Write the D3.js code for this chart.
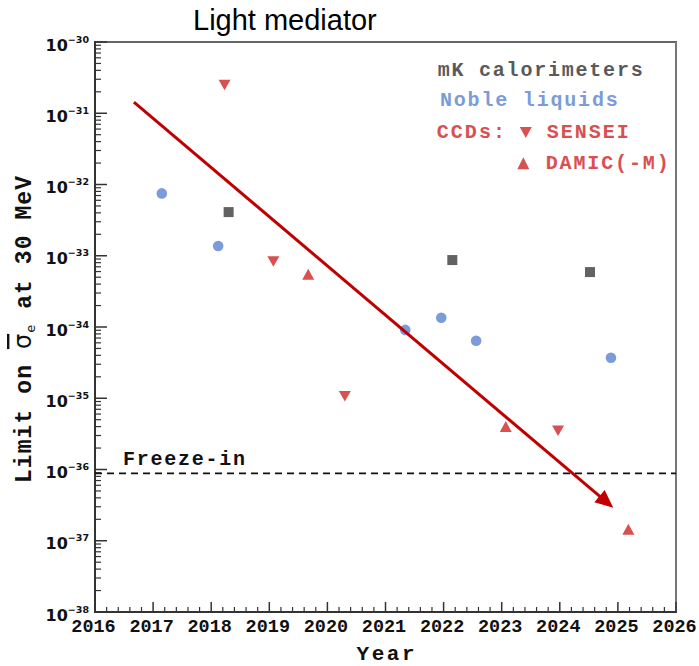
<!DOCTYPE html>
<html>
<head>
<meta charset="utf-8">
<script src="https://cdn.jsdelivr.net/npm/d3@7"></script>
<style>
  html, body { margin: 0; padding: 0; background: #fff; }
  svg { display: block; }
</style>
</head>
<body>
<svg id="chart" width="699" height="666"></svg>
<script>
// ---- data ----
const nobleYears = [2017.15, 2018.12, 2021.34, 2021.96, 2022.56, 2024.88];
const nobleVals  = [7.5e-33, 1.37e-33, 9.1e-35, 1.35e-34, 6.4e-35, 3.7e-35];
const mkYears    = [2018.30, 2022.15, 2024.52];
const mkVals     = [4.1e-33, 8.7e-34, 5.9e-34];
const senseiYears = [2018.23, 2019.07, 2020.30, 2023.97];
const senseiVals  = [2.5e-31, 8.3e-34, 1.07e-35, 3.5e-36];
const damicYears  = [2019.67, 2023.07, 2025.18];
const damicVals   = [5.5e-34, 4.0e-36, 1.45e-37];
const freezeIn = 8.85e-37;
const arrowYears = [2016.67, 2024.92];
const arrowVals  = [1.43e-31, 2.9e-37];
const xTickYears = [2016, 2017, 2018, 2019, 2020, 2021, 2022, 2023, 2024, 2025, 2026];
const yTickExps  = [-30, -31, -32, -33, -34, -35, -36, -37, -38];
const legendLabels = ["mK calorimeters", "Noble liquids", "CCDs:", "SENSEI", "DAMIC(-M)"];

const colGrey = "#626262", colBlue = "#7b9cd8", colRed = "#d8504f", colArrow = "#c00000";
const mono = "'Liberation Mono', 'Courier New', monospace";

const svg = d3.select("#chart");
const L = 95, R = 676, T = 42, B = 612;
const x = d3.scaleLinear().domain([2016, 2026]).range([L, R]);
const y = d3.scaleLog().domain([1e-38, 1e-30]).range([B, T]);

// title
svg.append("text").attr("x", 193).attr("y", 30)
  .attr("font-family", "'Liberation Sans', Arial, sans-serif").attr("font-size", 29)
  .attr("fill", "#000").text("Light mediator");

// frame top/right
svg.append("line").attr("x1", L).attr("x2", R + 1).attr("y1", T).attr("y2", T)
  .attr("stroke", "#666").attr("stroke-width", 2);
svg.append("line").attr("x1", R).attr("x2", R).attr("y1", T).attr("y2", B)
  .attr("stroke", "#777").attr("stroke-width", 2);

// y ticks (log minor)
const yMinor = [];
for (let e = -38; e < -30; e++) for (let m = 2; m <= 9; m++) yMinor.push(m * Math.pow(10, e));
const yAxisG = svg.append("g");
yAxisG.selectAll("line.minor").data(yMinor).join("line")
  .attr("x1", L).attr("x2", L + 6).attr("y1", d => y(d)).attr("y2", d => y(d))
  .attr("stroke", "#333").attr("stroke-width", 1.2);
yAxisG.selectAll("line.major").data(yTickExps).join("line")
  .attr("x1", L).attr("x2", L + 12).attr("y1", d => y(Math.pow(10, d))).attr("y2", d => y(Math.pow(10, d)))
  .attr("stroke", "#333").attr("stroke-width", 1.5);
const yl = yAxisG.selectAll("text").data(yTickExps).join("text")
  .attr("x", 89).attr("y", d => y(Math.pow(10, d)) + 8.5)
  .attr("text-anchor", "end").attr("font-family", "'DejaVu Sans', sans-serif")
  .attr("font-weight", "bold").attr("fill", "#111");
yl.append("tspan").attr("font-size", 16).text("10");
yl.append("tspan").attr("font-size", 9.5).attr("dy", -7.8).text(d => "\u2212" + Math.abs(d));

// x ticks
const xMinor = [];
for (let yr = 2016; yr < 2026; yr++) for (let k = 1; k <= 4; k++) xMinor.push(yr + k * 0.2);
const xAxisG = svg.append("g");
xAxisG.selectAll("line.minor").data(xMinor).join("line")
  .attr("x1", d => x(d)).attr("x2", d => x(d)).attr("y1", B).attr("y2", B - 5)
  .attr("stroke", "#333").attr("stroke-width", 1.2);
xAxisG.selectAll("line.major").data(xTickYears).join("line")
  .attr("x1", d => x(d)).attr("x2", d => x(d)).attr("y1", B).attr("y2", B - 10)
  .attr("stroke", "#333").attr("stroke-width", 1.5);
xAxisG.selectAll("text").data(xTickYears).join("text")
  .attr("x", d => x(d) - 1.5).attr("y", 632).attr("text-anchor", "middle")
  .attr("font-family", mono).attr("font-weight", "bold").attr("font-size", 18.5)
  .attr("fill", "#111").text(d => d);

// axis lines left/bottom
svg.append("line").attr("x1", L).attr("x2", L).attr("y1", T - 1).attr("y2", B + 1)
  .attr("stroke", "#333").attr("stroke-width", 2);
svg.append("line").attr("x1", L - 1).attr("x2", R + 1).attr("y1", B).attr("y2", B)
  .attr("stroke", "#333").attr("stroke-width", 2);

// axis titles
svg.append("text").attr("x", (L + R) / 2).attr("y", 660).attr("text-anchor", "middle")
  .attr("font-family", mono).attr("font-weight", "bold").attr("font-size", 21)
  .attr("textLength", 58).attr("fill", "#111").text("Year");

const yt = svg.append("text").attr("transform", "translate(31,483) rotate(-90)")
  .attr("font-family", mono).attr("font-weight", "bold").attr("font-size", 23).attr("fill", "#111")
  .attr("textLength", 307).attr("lengthAdjust", "spacing");
yt.append("tspan").text("Limit on ");
yt.append("tspan").attr("font-family", "'DejaVu Sans', sans-serif").attr("font-weight", "normal")
  .attr("font-size", 24).attr("text-decoration", "overline").text("\u03C3");
yt.append("tspan").attr("font-family", "'DejaVu Sans', sans-serif").attr("font-weight", "normal")
  .attr("font-size", 13).attr("dy", 4).text("e");
yt.append("tspan").attr("dy", -4).text(" at 30 MeV");

// freeze-in
svg.append("line").attr("x1", x(2016)).attr("x2", x(2026)).attr("y1", y(freezeIn)).attr("y2", y(freezeIn))
  .attr("stroke", "#111").attr("stroke-width", 1.8).attr("stroke-dasharray", "7,5");
svg.append("text").attr("x", 123).attr("y", 465)
  .attr("font-family", mono).attr("font-weight", "bold").attr("font-size", 20)
  .attr("textLength", 122).attr("fill", "#111").text("Freeze-in");

// markers
function tri(cx, cy, w, h, down) {
  const s = down ? -1 : 1;
  return `M${cx},${cy - s * h / 2}L${cx + w / 2},${cy + s * h / 2}L${cx - w / 2},${cy + s * h / 2}Z`;
}
const noble = nobleYears.map((d, i) => [d, nobleVals[i]]);
const mk = mkYears.map((d, i) => [d, mkVals[i]]);
const sensei = senseiYears.map((d, i) => [d, senseiVals[i]]);
const damic = damicYears.map((d, i) => [d, damicVals[i]]);

svg.append("g").selectAll("circle").data(noble).join("circle")
  .attr("cx", d => x(d[0])).attr("cy", d => y(d[1])).attr("r", 5.3).attr("fill", colBlue);
svg.append("g").selectAll("rect").data(mk).join("rect")
  .attr("x", d => x(d[0]) - 5).attr("y", d => y(d[1]) - 5).attr("width", 10).attr("height", 10)
  .attr("fill", colGrey);
svg.append("g").selectAll("path").data(sensei).join("path")
  .attr("d", d => tri(x(d[0]), y(d[1]), 12, 10.5, true)).attr("fill", colRed);
svg.append("g").selectAll("path").data(damic).join("path")
  .attr("d", d => tri(x(d[0]), y(d[1]), 12, 11, false)).attr("fill", colRed);

// arrow
const ax0 = x(arrowYears[0]), ay0 = y(arrowVals[0]), ax1 = x(arrowYears[1]), ay1 = y(arrowVals[1]);
const ang = Math.atan2(ay1 - ay0, ax1 - ax0);
const headLen = 18, headW = 8;
const bx = ax1 - headLen * Math.cos(ang), by = ay1 - headLen * Math.sin(ang);
svg.append("line").attr("x1", ax0).attr("y1", ay0).attr("x2", bx + 2 * Math.cos(ang)).attr("y2", by + 2 * Math.sin(ang))
  .attr("stroke", colArrow).attr("stroke-width", 3);
svg.append("path")
  .attr("d", `M${ax1},${ay1}L${bx - headW * Math.sin(ang)},${by + headW * Math.cos(ang)}L${bx + headW * Math.sin(ang)},${by - headW * Math.cos(ang)}Z`)
  .attr("fill", colArrow);

// legend
const lg = svg.append("g").attr("font-family", mono).attr("font-weight", "bold").attr("font-size", 20);
lg.append("text").attr("x", 437.7).attr("y", 76).attr("textLength", 205).attr("fill", "#5a5a5a").text(legendLabels[0]);
lg.append("text").attr("x", 440).attr("y", 105.5).attr("textLength", 177.7).attr("fill", colBlue).text(legendLabels[1]);
lg.append("text").attr("x", 436.7).attr("y", 137.7).attr("textLength", 68.3).attr("fill", colRed).text(legendLabels[2]);
lg.append("path").attr("d", tri(525.8, 132.5, 12, 11, true)).attr("fill", colRed);
lg.append("text").attr("x", 546.7).attr("y", 137.7).attr("textLength", 82).attr("fill", colRed).text(legendLabels[3]);
lg.append("path").attr("d", tri(523.3, 163.3, 12, 12, false)).attr("fill", colRed);
lg.append("text").attr("x", 545.7).attr("y", 169).attr("textLength", 123).attr("fill", colRed).text(legendLabels[4]);
</script>
</body>
</html>
